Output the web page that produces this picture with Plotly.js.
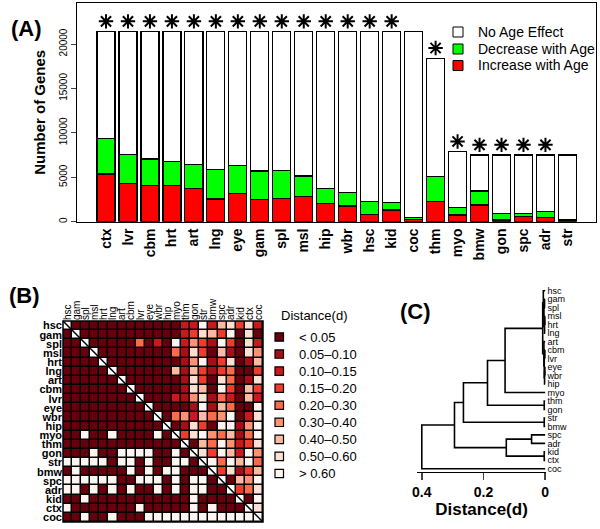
<!DOCTYPE html>
<html><head><meta charset="utf-8">
<script src="https://cdn.plot.ly/plotly-3.0.1.min.js"></script>
<style>html,body{margin:0;padding:0;background:#fff}#chart{width:600px;height:529px}</style>
</head><body><div id="chart"></div>
<script>
// ---------- Panel A data ----------
const tissues = ['ctx','lvr','cbm','hrt','art','lng','eye','gam','spl','msl','hip','wbr','hsc','kid','coc','thm','myo','bmw','gon','spc','adr','str'];
const increaseWithAge = [5370,4320,4095,4095,3755,2555,3190,2520,2630,2815,2070,1770,830,1315,250,2250,750,1880,190,560,450,100];
const decreaseWithAge = [4015,3265,2960,2660,2660,3335,3150,3185,3110,2330,1685,1495,1420,865,200,2820,870,1575,755,340,675,150];
const noAgeEffect     = [12015,13815,14345,14645,14985,15510,15060,15695,15660,16255,17645,18135,19150,19220,20950,13330,6260,4045,6555,6600,6375,7250];
const significant     = [1,1,1,1,1,1,1,1,1,1,1,1,1,1,0,1,1,1,1,1,1,0];
const seriesNames  = ['No Age Effect','Decrease with Age','Increase with Age'];
const seriesColors = ['#FFFFFF','#00FF00','#FF0000'];
const countTicks = [0,5000,10000,15000,20000];

// ---------- Panel B data ----------
const matrixOrder = ['hsc','gam','spl','msl','hrt','lng','art','cbm','lvr','eye','wbr','hip','myo','thm','gon','str','bmw','spc','adr','kid','ctx','coc'];
// upper triangle: distance level 0-8; lower triangle: 0 = dark, 8 = light; x = diagonal
const distanceLevels = [
 "x000000000000228267372",
 "0x00000000000237638070",
 "00x0000040208253183072",
 "000x000000004173061075",
 "0000x00000000158137016",
 "00000x0000006163134003",
 "000000x000000173074017",
 "0000000x00000176083063",
 "00000000x0002157142062",
 "000000000x000018164008",
 "0000000000x04526458027",
 "00000000000x0173088158",
 "008008000080x378546148",
 "0000000000000x06485237",
 "00080088880080x7386285",
 "888880880800880x848684",
 "0800000808088000x37136",
 "88888800888080880x0658",
 "880808080080808800x347",
 "0080000000000080000x08",
 "80000000800000808000x7",
 "008008000888888888888x"
];
const distanceLabels = ['< 0.05','0.05\u20130.10','0.10\u20130.15','0.15\u20130.20','0.20\u20130.30','0.30\u20130.40','0.40\u20130.50','0.50\u20130.60','> 0.60'];
const distanceColors = ['#67000D','#A50F15','#CB181D','#EF3B2C','#FB6A4A','#FC9272','#FCBBA1','#FEE0D2','#FFF5F0'];
const diagonalColor = '#FFFFFF';

// ---------- Panel C data ----------
const leafOrder = matrixOrder;
// [childA, childB, height]; leaves are 0..21, merge k is 100+k
const merges = [
 [1,2,0.002],[3,4,0.001],[101,5,0.002],[100,102,0.004],[0,103,0.006],
 [7,8,0.001],[9,10,0.001],[106,11,0.002],[105,107,0.003],[6,108,0.004],
 [104,109,0.008],[110,12,0.130],[13,14,0.003],[111,112,0.187],[15,16,0.003],
 [113,114,0.265],[17,18,0.044],[19,20,0.003],[116,117,0.126],[115,118,0.294],
 [119,21,0.400]
];
const distanceTicks = [0.4,0.2,0];
const distanceTickText = ['0.4','0.2','0'];

// ---------- helpers ----------
const W=600,H=529;
const px = v => v/W, py = v => 1 - v/H;
const FONT = 'Liberation Sans, Arial, Helvetica, sans-serif';

const traces = [];
const stackData = [increaseWithAge, decreaseWithAge, noAgeEffect];
const stackIdx = [2,1,0];
stackData.forEach((vals,i)=>{
  const s = stackIdx[i];
  traces.push({type:'bar', x:tissues, y:vals, name:seriesNames[s], xaxis:'x', yaxis:'y',
    marker:{color:seriesColors[s], line:{color:'#000', width:1.2}}, hoverinfo:'skip', showlegend:false});
});
const totals = tissues.map((t,i)=>increaseWithAge[i]+decreaseWithAge[i]+noAgeEffect[i]);
const starX = [], starY = [];
tissues.forEach((t,i)=>{ if(significant[i]){ starX.push(t); starY.push(totals[i]+1150);} });
traces.push({type:'scatter', mode:'markers', x:starX, y:starY, xaxis:'x', yaxis:'y', cliponaxis:false,
  marker:{symbol:'asterisk-open', size:12, color:'#000', line:{color:'#000', width:2}}, hoverinfo:'skip', showlegend:false});

// Panel B heatmap
const z = distanceLevels.map(r => r.split('').map(ch => ch==='x' ? 9 : +ch));
const allColors = distanceColors.concat([diagonalColor]);
const cs = [];
allColors.forEach((c,k)=>{ cs.push([k/allColors.length, c]); cs.push([(k+1)/allColors.length, c]); });
traces.push({type:'heatmap', z:z, x:matrixOrder, y:matrixOrder, xaxis:'x2', yaxis:'y2',
  colorscale:cs, zmin:-0.5, zmax:9.5, showscale:false, xgap:1.5, ygap:1.5, hoverinfo:'skip'});

// Panel C dendrogram
const pos = {}, hgt = {};
leafOrder.forEach((l,i)=>{ pos[i]=i; hgt[i]=0; });
const dx = [], dy = [];
merges.forEach(([a,b,h],k)=>{
  dx.push(hgt[a],h,h,hgt[b],null);
  dy.push(pos[a],pos[a],pos[b],pos[b],null);
  pos[100+k]=(pos[a]+pos[b])/2; hgt[100+k]=h;
});
traces.push({type:'scatter', mode:'lines', x:dx, y:dy, xaxis:'x3', yaxis:'y3',
  line:{color:'#000', width:1.6}, hoverinfo:'skip', showlegend:false});

// ---------- shapes & annotations ----------
const shapes = [
  {type:'rect', xref:'x2 domain', yref:'y2 domain', x0:0,x1:1,y0:0,y1:1, fillcolor:'#000', line:{width:0}, layer:'below'},
  {type:'rect', xref:'x2 domain', yref:'y2 domain', x0:0,x1:1,y0:0,y1:1, line:{color:'#000', width:1.5}},
  {type:'line', xref:'x2 domain', yref:'y2 domain', x0:0,x1:1,y0:1,y1:0, line:{color:'#000', width:1.5}}
];
const annotations = [];
const legACy = [32,49,65.5];
seriesNames.forEach((n,i)=>{
  shapes.push({type:'rect', xref:'paper', yref:'paper', x0:px(453), x1:px(463), y0:py(legACy[i]+5), y1:py(legACy[i]-5),
    fillcolor:seriesColors[i], line:{color:'#000', width:1}});
  annotations.push({xref:'paper', yref:'paper', x:px(476), y:py(legACy[i]), text:n, showarrow:false,
    xanchor:'left', yanchor:'middle', font:{family:FONT, size:14, color:'#000'}});
});
annotations.push({xref:'paper', yref:'paper', x:px(279), y:py(315), text:'Distance(d)', showarrow:false,
  xanchor:'left', yanchor:'middle', font:{family:FONT, size:13, color:'#000'}});
distanceLabels.forEach((l,i)=>{
  const cy = 337 + 17.06*i;
  shapes.push({type:'rect', xref:'paper', yref:'paper', x0:px(275), x1:px(283.5), y0:py(cy+4.2), y1:py(cy-4.2),
    fillcolor:distanceColors[i], line:{color:'#000', width:1.2}});
  annotations.push({xref:'paper', yref:'paper', x:px(297), y:py(cy), text:l, showarrow:false,
    xanchor:'left', yanchor:'middle', font:{family:FONT, size:13, color:'#000'}});
});
[['(A)',26,29],['(B)',24,295],['(C)',415,311]].forEach(([t,x,y])=>{
  annotations.push({xref:'paper', yref:'paper', x:px(x), y:py(y), text:'<b>'+t+'</b>', showarrow:false,
    xanchor:'center', yanchor:'middle', font:{family:FONT, size:22, color:'#000'}});
});

const layout = {
  width:W, height:H, margin:{l:0,r:0,t:0,b:0}, paper_bgcolor:'#fff', plot_bgcolor:'rgba(0,0,0,0)',
  barmode:'stack', bargap:0.18, showlegend:false, font:{family:FONT, color:'#000'},
  xaxis:{domain:[px(77),px(596)], range:[-1.32,22.3], anchor:'y', showline:true, mirror:true, linecolor:'#000', linewidth:1.2,
    ticks:'', tickangle:-90, tickfont:{family:FONT, size:14, weight:'bold'}, showgrid:false, zeroline:false, fixedrange:true},
  yaxis:{domain:[py(221.7),py(3)], range:[0,24615], anchor:'x', showline:true, mirror:true, linecolor:'#000', linewidth:1.2,
    ticks:'outside', ticklen:5, tickvals:countTicks, ticktext:countTicks.map(String), tickangle:-90,
    tickfont:{family:FONT, size:10}, showgrid:false, zeroline:false, fixedrange:true,
    title:{text:'Number of Genes', font:{family:FONT, size:15, weight:'bold'}, standoff:8}},
  xaxis2:{domain:[px(63),px(263)], range:[-0.5,21.5], anchor:'y2', side:'top', type:'category', ticks:'',
    tickmode:'array', tickvals:matrixOrder, ticktext:matrixOrder,
    tickangle:-90, tickfont:{family:FONT, size:10}, showgrid:false, zeroline:false, showline:false, fixedrange:true},
  yaxis2:{domain:[py(522),py(321)], range:[21.5,-0.5], anchor:'x2', type:'category', ticks:'',
    tickmode:'array', tickvals:matrixOrder, ticktext:matrixOrder,
    tickfont:{family:FONT, size:11, weight:'bold'}, showgrid:false, zeroline:false, showline:false, fixedrange:true},
  xaxis3:{domain:[px(416.7),px(546.4)], range:[0.4165,-0.004], anchor:'y3', showline:true, linecolor:'#000', linewidth:1.5,
    ticks:'outside', ticklen:7, tickwidth:1.5, tickvals:distanceTicks, ticktext:distanceTickText,
    tickfont:{family:FONT, size:14, weight:'bold'}, showgrid:false, zeroline:false, fixedrange:true,
    title:{text:'Distance(d)', font:{family:FONT, size:17, weight:'bold'}, standoff:3}},
  yaxis3:{domain:[py(471.7),py(282)], range:[21.34,-1.03], anchor:'x3', side:'right', ticks:'',
    tickmode:'array', tickvals:leafOrder.map((l,i)=>i), ticktext:leafOrder, tickfont:{family:FONT, size:9},
    showgrid:false, zeroline:false, showline:false, fixedrange:true},
  shapes:shapes, annotations:annotations
};
Plotly.newPlot('chart', traces, layout, {displayModeBar:false, staticPlot:true});
</script></body></html>
